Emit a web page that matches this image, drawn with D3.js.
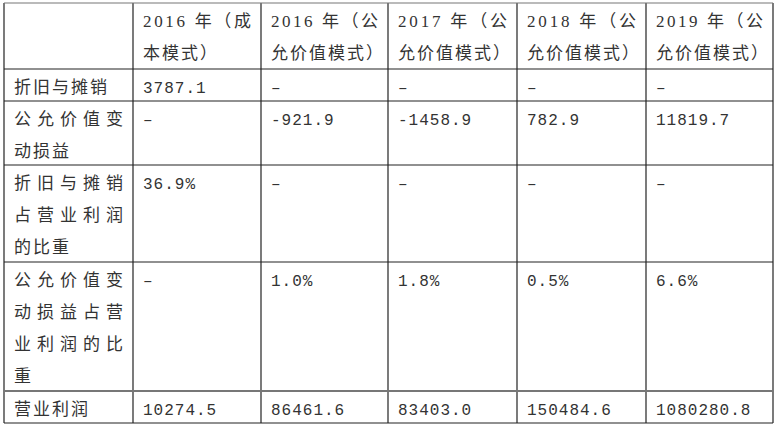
<!DOCTYPE html><html><head><meta charset="utf-8">
<script src="https://cdn.jsdelivr.net/npm/d3@7"></script>
<style>body{margin:0;background:#fff}</style></head><body><svg id="c" width="778" height="427"></svg>
<script>
const headers = [[""], ["2016 年（成","本模式）"], ["2016 年（公","允价值模式）"], ["2017 年（公","允价值模式）"], ["2018 年（公","允价值模式）"], ["2019 年（公","允价值模式）"]];
const rowLabels = [["折旧与摊销"], ["公允价值变","动损益"], ["折旧与摊销","占营业利润","的比重"], ["公允价值变","动损益占营","业利润的比","重"], ["营业利润"]];
const depreciation = ["3787.1","–","–","–","–"];
const fairValueChange = ["–","-921.9","-1458.9","782.9","11819.7"];
const depShare = ["36.9%","–","–","–","–"];
const fvShare = ["–","1.0%","1.8%","0.5%","6.6%"];
const operatingProfit = ["10274.5","86461.6","83403.0","150484.6","1080280.8"];
const rowsData = [depreciation, fairValueChange, depShare, fvShare, operatingProfit];

const colEdges = [4,133,261,388,517,646,773];
const rowEdges = [3,69,101,165,262,391,423];
const svg = d3.select("#c");
const cjkFont = "'Liberation Serif','Noto Sans CJK SC',serif";
const numFont = "'Liberation Mono','Noto Sans CJK SC',monospace";
const color = "#333";
const g = svg.append("g").attr("stroke","#222").attr("stroke-width",1.2);
colEdges.forEach(x=>g.append("line").attr("x1",x).attr("x2",x).attr("y1",rowEdges[0]).attr("y2",rowEdges[rowEdges.length-1]));
rowEdges.forEach(y=>g.append("line").attr("x1",colEdges[0]).attr("x2",colEdges[colEdges.length-1]).attr("y1",y).attr("y2",y).attr("stroke",(y===391||y===3)?"#777":"#222").attr("stroke-width",(y===391)?2:1.2));

function cell(lines, ci, ri, isNum){
  const x0 = colEdges[ci]+10, w = colEdges[ci+1]-colEdges[ci]-20;
  lines.forEach((t,i)=>{
    const el = svg.append("text").attr("x",x0).attr("y",rowEdges[ri]+24+i*32)
      .attr("font-family",isNum?numFont:cjkFont).attr("font-size",isNum?16:17).attr("fill",color).text(t);
    if(lines.length>1 && i<lines.length-1) el.attr("textLength",w).attr("lengthAdjust","spacing");
    else el.attr("letter-spacing",isNum?1:2);
  });
}
headers.forEach((h,ci)=>cell(h,ci,0,false));
rowLabels.forEach((l,ri)=>cell(l,0,ri+1,false));
rowsData.forEach((row,ri)=>row.forEach((v,ci)=>cell([v],ci+1,ri+1,true)));
</script></body></html>
